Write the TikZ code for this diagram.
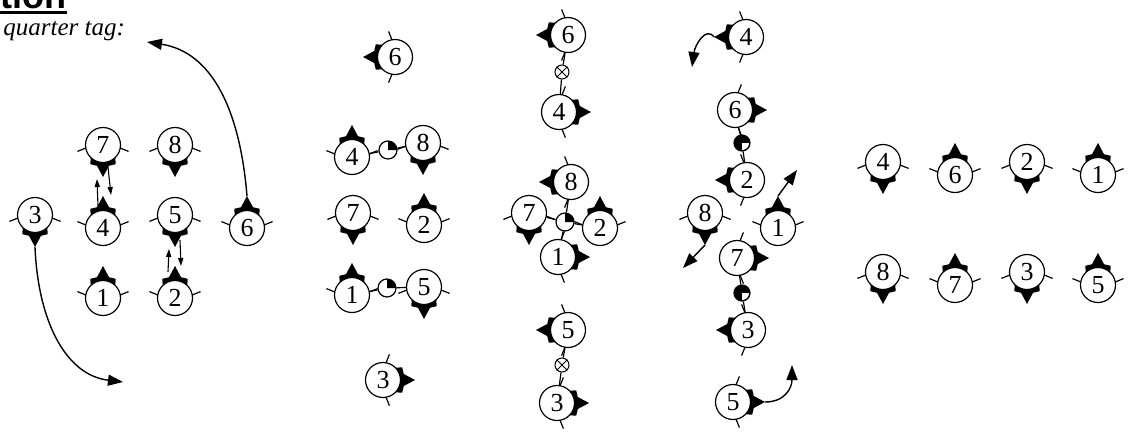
\documentclass[tikz,border=0pt]{standalone}
\usepackage{fontspec}
\setmainfont{Liberation Serif}
\newfontfamily\headfont{Liberation Sans}
\usetikzlibrary{arrows.meta, calc}

\tikzset{
  tilenode/.style={circle, draw, fill=white, line width=0.6pt, minimum size=17.5pt, inner sep=0pt, font=\fontsize{13}{13}\selectfont},
  linkline/.style={line width=0.6pt},
  qjoint/.style={circle, draw, fill=white, line width=0.6pt, minimum size=9pt, inner sep=0pt},
  bjoint/.style={circle, draw, fill=black, line width=0.6pt, minimum size=8pt, inner sep=0pt},
  xjoint/.style={circle, draw, fill=white, line width=0.5pt, minimum size=7pt, inner sep=0pt},
  bigarrow/.style={line width=0.7pt, -{Triangle[length=7.5pt, width=5.5pt]}},
  smallarrow/.style={line width=0.55pt, -{Triangle[length=4pt, width=2.6pt]}},
}

% tile: name, position, number, direction of the tag
\newcommand{\tile}[4]{%
  \begin{scope}[shift={(#2)}, rotate={#4-90}, x=1pt, y=1pt]
    \fill (135:8.75) -- (-6.3,9.6) -- (-3,10.4) -- (0,16) -- (3,10.4) -- (6.3,9.6) -- (45:8.75)
      arc[start angle=45, end angle=135, radius=8.75] -- cycle;
    \draw[line width=0.6pt] (10:8.75) -- ++(22:4.5);
    \draw[line width=0.6pt] (170:8.75) -- ++(158:4.5);
    \coordinate (#1t) at (0,16);
  \end{scope}
  \node[tilenode] (#1) at (#2) {#3};
}
% white joint with a black quarter
\newcommand{\quarter}[2]{%
  \node[qjoint] (#1) at (#2) {};
  \fill[shift={(#2)}, x=1pt, y=1pt] (0,0) -- (4.5,0) arc[start angle=0, end angle=90, radius=4.5] -- cycle;
}
% black joint with a white quarter
\newcommand{\blackq}[2]{%
  \node[bjoint] (#1) at (#2) {};
  \fill[white, shift={(#2)}, x=1pt, y=1pt] (0,0) -- (3.5,0) arc[start angle=0, end angle=-90, radius=3.5] -- cycle;
}
% crossed joint
\newcommand{\crossj}[2]{%
  \node[xjoint] (#1) at (#2) {};
  \draw[line width=0.5pt] (#1.north west) -- (#1.south east) (#1.north east) -- (#1.south west);
}

\begin{document}
\begin{tikzpicture}[x=0.5pt, y=-0.5pt]
  \useasboundingbox (0,0) rectangle (1137,435);
  \clip (0,0) rectangle (1137,435);

  % Heading
  \node[anchor=base east, inner sep=0pt, font=\headfont\bfseries\fontsize{18}{18}\selectfont] (head) at (67,8) {tion};
  \draw[line width=1.3pt] ([yshift=-2.3pt]head.base west) -- ([yshift=-2.3pt]head.base east);
  \node[anchor=base west, inner sep=0pt, font=\itshape\fontsize{12.5}{12.5}\selectfont] (note) at (3,35) {quarter tag:};

  % First group
  \tile{g1n7}{103,145}{7}{270}
  \tile{g1n8}{175,145}{8}{270}
  \tile{g1n3}{35,215}{3}{270}
  \tile{g1n4}{103,228}{4}{90}
  \tile{g1n5}{175,215}{5}{270}
  \tile{g1n6}{247,228}{6}{90}
  \tile{g1n1}{103,298}{1}{90}
  \tile{g1n2}{175,298}{2}{90}
  \draw[smallarrow] ($(g1n4t)+(-5,10)$) -- ($(g1n7t)+(-6,2)$);
  \draw[smallarrow] ($(g1n7t)+(5,-10)$) -- ($(g1n4t)+(8,-1)$);
  \draw[smallarrow] ($(g1n2t)+(-7,6)$) -- ($(g1n5t)+(-6,2)$);
  \draw[smallarrow] ($(g1n5t)+(5,-7)$) -- ($(g1n2t)+(6,0)$);
  \coordinate (up) at (147,42);
  \coordinate (down) at (123,382);
  \draw[bigarrow] (g1n6t) .. controls (240,110) and (212,52) .. (up);
  \draw[bigarrow] (g1n3t) .. controls (38,320) and (65,375) .. (down);

  % Second group
  \tile{g2n6}{395,57}{6}{180}
  \tile{g2n4}{352,157}{4}{90}
  \quarter{g2q1}{388,150}
  \tile{g2n8}{423,143}{8}{270}
  \tile{g2n7}{353,213}{7}{270}
  \tile{g2n2}{424,225}{2}{90}
  \tile{g2n1}{352,295}{1}{90}
  \quarter{g2q2}{387,288}
  \tile{g2n5}{424,287}{5}{270}
  \tile{g2n3}{383,380}{3}{0}
  \draw[linkline] (g2n4) -- (g2q1) -- (g2n8);
  \draw[linkline] (g2n1) -- (g2q2) -- (g2n5);

  % Third group
  \tile{g3n6}{568,35}{6}{180}
  \crossj{g3x1}{562,72}
  \tile{g3n4}{559,112}{4}{0}
  \tile{g3n8}{571,182}{8}{180}
  \tile{g3n7}{529,213}{7}{270}
  \quarter{g3q}{565,222}
  \tile{g3n2}{600,228}{2}{90}
  \tile{g3n1}{558,257}{1}{0}
  \tile{g3n5}{568,330}{5}{180}
  \crossj{g3x2}{562,365}
  \tile{g3n3}{557,403}{3}{0}
  \draw[linkline] (g3n6) -- (g3x1) -- (g3n4);
  \draw[linkline] (g3n8) -- (g3q) -- (g3n1);
  \draw[linkline] (g3n7) -- (g3q) -- (g3n2);
  \draw[linkline] (g3n5) -- (g3x2) -- (g3n3);

  % Fourth group
  \tile{g4n4}{746,37}{4}{180}
  \tile{g4n6}{735,110}{6}{0}
  \blackq{g4b1}{742,143}
  \tile{g4n2}{747,180}{2}{180}
  \tile{g4n8}{705,213}{8}{270}
  \tile{g4n1}{778,228}{1}{90}
  \tile{g4n7}{737,258}{7}{0}
  \blackq{g4b2}{742,293}
  \tile{g4n3}{748,330}{3}{180}
  \tile{g4n5}{733,402}{5}{0}
  \draw[linkline] (g4n6) -- (g4b1) -- (g4n2);
  \draw[linkline] (g4n7) -- (g4b2) -- (g4n3);
  \coordinate (out4) at (692,67);
  \coordinate (out1) at (797,170);
  \coordinate (out8) at (683,268);
  \coordinate (out5) at (792,365);
  \draw[bigarrow] (g4n4t) .. controls (706,26) and (695,45) .. (out4);
  \draw[bigarrow] (g4n1t) -- (out1);
  \draw[bigarrow] (g4n8t) -- (out8);
  \draw[bigarrow] (g4n5t) .. controls (785,402) and (792,388) .. (out5);

  % Result
  \tile{g5n4}{883,162}{4}{270}
  \tile{g5n6}{955,175}{6}{90}
  \tile{g5n2}{1027,162}{2}{270}
  \tile{g5n1}{1098,175}{1}{90}
  \tile{g5n8}{883,272}{8}{270}
  \tile{g5n7}{955,285}{7}{90}
  \tile{g5n3}{1027,272}{3}{270}
  \tile{g5n5}{1098,285}{5}{90}
\end{tikzpicture}
\end{document}
